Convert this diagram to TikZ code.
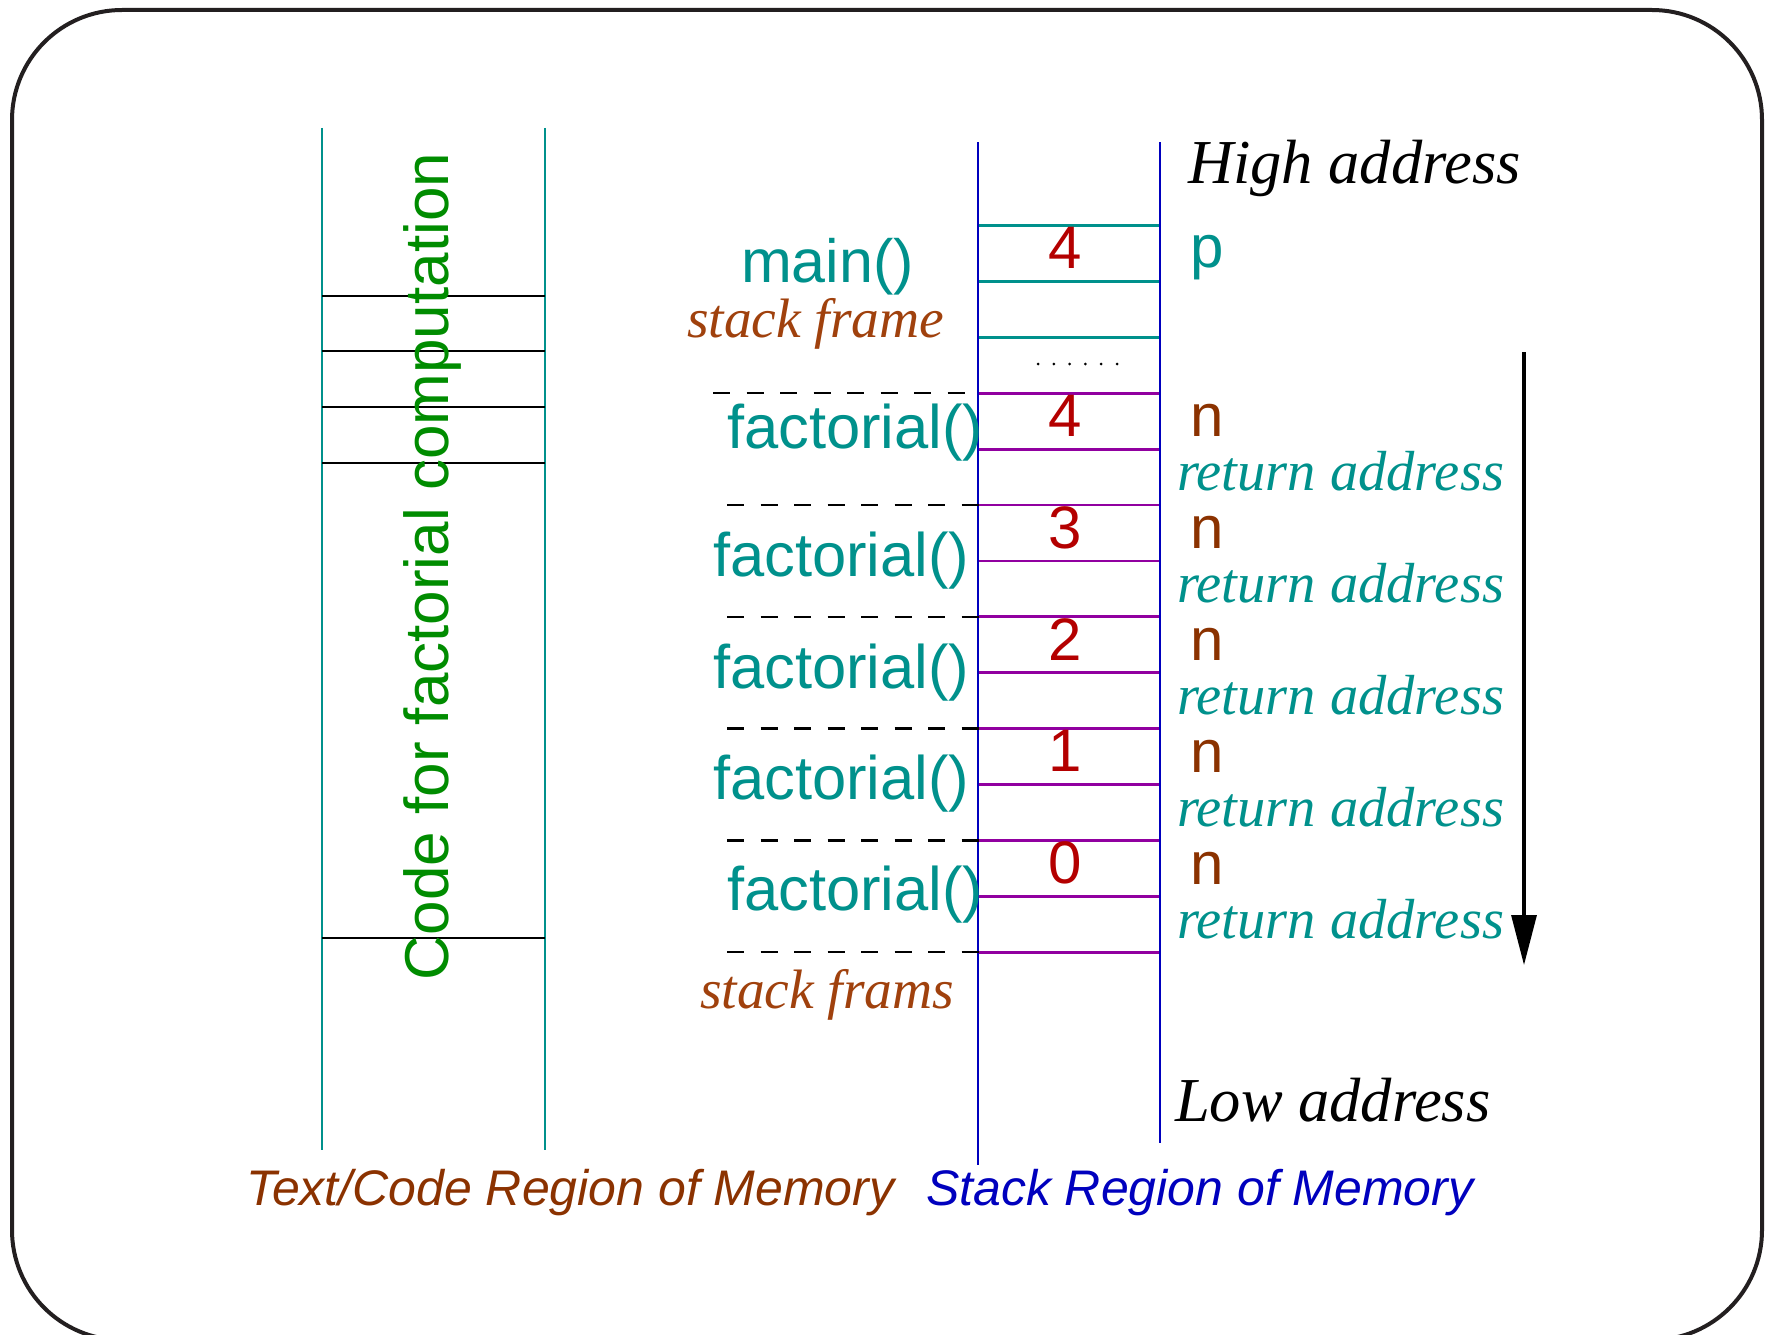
\documentclass[tikz,border=0pt]{standalone}
\usepackage{fontspec}
\setmainfont{Liberation Serif}
\setsansfont{Liberation Sans}
\usetikzlibrary{arrows.meta}
\definecolor{tealc}{RGB}{0,145,140}
\definecolor{stackblue}{RGB}{0,0,190}
\definecolor{purp}{RGB}{145,0,160}
\definecolor{numred}{RGB}{180,0,0}
\definecolor{brownA}{RGB}{160,65,13}
\definecolor{brownB}{RGB}{139,50,0}
\definecolor{greenc}{RGB}{0,140,0}
\definecolor{framec}{RGB}{35,31,32}
\tikzset{
  every node/.style={inner sep=0pt, outer sep=0pt},
  sansbig/.style={font=\sffamily\fontsize{60}{60}\selectfont, anchor=base west},
  funclbl/.style={sansbig, text=tealc, font=\sffamily\fontsize{61.5}{61.5}\selectfont},
  numlbl/.style={font=\sffamily\fontsize{60}{60}\selectfont, text=numred, anchor=base},
  nlbl/.style={sansbig, text=brownB},
  retlbl/.style={font=\itshape\fontsize{56.5}{56.5}\selectfont, text=tealc, anchor=base west},
  framelbl/.style={font=\itshape\fontsize{55.5}{55.5}\selectfont, text=brownA, anchor=base west},
  addrlbl/.style={font=\itshape\fontsize{62.5}{62.5}\selectfont, text=black, anchor=base west},
  regionlbl/.style={font=\sffamily\itshape\fontsize{50}{50}\selectfont, anchor=base west},
  tealline/.style={draw=tealc, line width=2.8pt},
  purpline/.style={draw=purp, line width=2.8pt},
  blueline/.style={draw=stackblue, line width=2.8pt},
  codeline/.style={draw=black, line width=1.6pt},
  dashline/.style={draw=black, line width=2.4pt, dash pattern=on 17pt off 16.5pt},
}
\begin{document}
\begin{tikzpicture}
\useasboundingbox (0,0) rectangle (1766pt,-1335pt);
\begin{scope}[x=1pt,y=1pt]
\clip (0,0) rectangle (1766,-1335);
\fill[white] (0,0) rectangle (1766,-1335);
% outer frame
\draw[framec, line width=4pt, rounded corners=110pt] (12,-10) rectangle (1762,-1340);

% code region
\coordinate (cl1) at (322,-128);
\coordinate (cl2) at (322,-1150);
\coordinate (cr1) at (545,-128);
\coordinate (cr2) at (545,-1150);
\draw[tealline] (cl1) -- (cl2);
\draw[tealline] (cr1) -- (cr2);
\foreach \yy [count=\i] in {296,351,407,463,938}{
  \coordinate (ca\i) at (322,-\yy);
  \coordinate (cb\i) at (545,-\yy);
  \draw[codeline] (ca\i) -- (cb\i);
}
\node[font=\sffamily\fontsize{62}{62}\selectfont, text=greenc, rotate=90, anchor=base west] (codetxt) at (448,-980) {Code for factorial computation};

% stack region
\coordinate (sl1) at (978,-142);
\coordinate (sl2) at (978,-1165);
\coordinate (sr1) at (1160,-142);
\coordinate (sr2) at (1160,-1143);
\draw[blueline] (sl1) -- (sl2);
\draw[blueline] (sr1) -- (sr2);
\foreach \k in {0,...,13}{
  \pgfmathsetmacro{\yy}{225.5+55.9*\k}
  \coordinate (hl\k) at (979,-\yy);
  \coordinate (hr\k) at (1159,-\yy);
}
\foreach \k in {0,1,2}{ \draw[tealline] (hl\k) -- (hr\k); }
\foreach \k in {3,...,13}{ \draw[purpline] (hl\k) -- (hr\k); }
% dots
\foreach \i in {0,...,5}{ \fill[black] (1038+15.8*\i,-364) circle (1.5); }

% dashed separators
\coordinate (d3) at (713,-393.2);
\draw[dashline] (d3) -- (966,-393.2);
\foreach \k in {5,7,9,11,13}{
  \pgfmathsetmacro{\yy}{225.5+55.9*\k}
  \coordinate (dd\k) at (727,-\yy);
  \draw[dashline] (dd\k) -- (hl\k);
}

% numbers
\node[numlbl] (v0) at (1065,-268.5) {4};
\node[numlbl] (v1) at (1065,-436) {4};
\node[numlbl] (v2) at (1065,-548) {3};
\node[numlbl] (v3) at (1065,-660) {2};
\node[numlbl] (v4) at (1065,-771.6) {1};
\node[numlbl] (v5) at (1065,-883.4) {0};

% left labels
\node[sansbig, text=tealc, font=\sffamily\fontsize{61}{61}\selectfont] (mainlbl) at (741,-282) {main()};
\node[framelbl] (sframe) at (687,-337) {stack frame};
\node[funclbl] (f1) at (727,-448) {factorial()};
\node[funclbl] (f2) at (713,-576) {factorial()};
\node[funclbl] (f3) at (713,-688) {factorial()};
\node[funclbl] (f4) at (713,-799) {factorial()};
\node[funclbl] (f5) at (727,-910) {factorial()};
\node[framelbl] (sframs) at (700,-1008) {stack frams};

% right labels
\node[addrlbl] (high) at (1188,-183) {High address};
\node[sansbig, text=tealc] (plbl) at (1190,-267) {p};
\foreach \yy [count=\i] in {436,548,660,772,884}{
  \node[nlbl] (n\i) at (1190,-\yy) {n};
  \node[retlbl] (r\i) at (1177,-\yy-54) {return address};
}
\node[addrlbl] (low) at (1175,-1121) {Low address};

% arrow
\coordinate (at) at (1524,-352);
\coordinate (ab) at (1524,-965);
\draw[line width=3.2pt, -{Triangle[length=50pt,width=25pt]}] (at) -- (ab);

% region captions
\node[regionlbl, text=brownB] (textreg) at (246,-1205) {Text/Code Region of Memory};
\node[regionlbl, text=stackblue] (stackreg) at (926,-1205) {Stack Region of Memory};
\end{scope}
\end{tikzpicture}
\end{document}
